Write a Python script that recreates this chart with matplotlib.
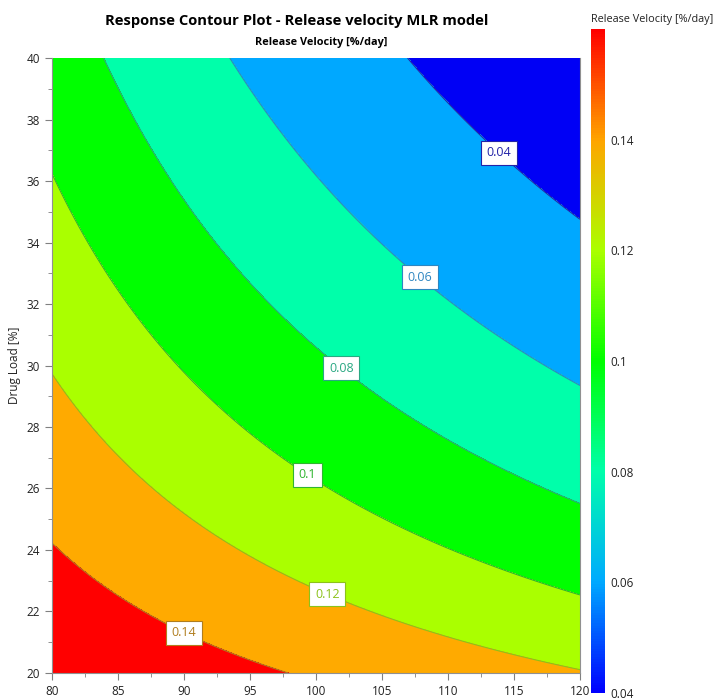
import numpy as np
import matplotlib
matplotlib.use("Agg")
import matplotlib.pyplot as plt
from matplotlib.colors import LinearSegmentedColormap, Normalize
from matplotlib.cm import ScalarMappable

plt.rcParams['font.family'] = ['Open Sans', 'DejaVu Sans']

# MLR model (log scale): ln(v) = b0 + b1*x + b2*load + b12*x*load
b0 = -2.639
b1 = 0.01689
b2 = 0.066
b12 = -0.001175

x_range = [80, 120]
load_range = [20, 40]

levels = [0.04, 0.06, 0.08, 0.10, 0.12, 0.14]
fill_colors = ["#0000f5", "#00a8ff", "#00ffaa", "#00ff00", "#aaff00", "#ffaa00", "#ff0000"]
line_colors = ["#2323a8", "#2e86c1", "#2aa882", "#2fb52f", "#8cc21a", "#b07d1e"]

# colour bar scale
cbar_values = [0.04, 0.06, 0.08, 0.10, 0.12, 0.14, 0.16]
cbar_colors = ["#0000ff", "#00aaff", "#00ffaa", "#00ff00", "#aaff00", "#ffa500", "#ff0000"]

x = np.linspace(x_range[0], x_range[1], 300)
y = np.linspace(load_range[0], load_range[1], 300)
X, Y = np.meshgrid(x, y)
Z = np.exp(b0 + b1 * X + b2 * Y + b12 * X * Y)

fig = plt.figure(figsize=(7.14, 7.0), dpi=100)
ax = fig.add_axes([0.0728, 0.0386, 0.7395, 0.8785])

ax.contourf(X, Y, Z, levels=[0] + levels + [1], colors=fill_colors)
cs = ax.contour(X, Y, Z, levels=levels, colors=line_colors, linewidths=0.8)

label_spots = [(113.4, 36.7), (107.9, 32.9), (101.9, 29.9), (99.3, 26.4), (100.8, 22.5), (90.0, 21.3)]
labels = ax.clabel(cs, fmt='%g', fontsize=9, inline=True, manual=label_spots)
for t in labels:
    t.set_rotation(0)
    t.set_bbox(dict(boxstyle='square,pad=0.45', fc='white', ec=t.get_color(), lw=0.8))

ax.set_xlim(x_range)
ax.set_ylim(load_range)
ax.set_xticks(np.arange(80, 121, 5))
ax.set_xticks(np.arange(80, 121, 2.5), minor=True)
ax.set_yticks(np.arange(20, 41, 2))
ax.set_yticks(np.arange(20, 41, 1), minor=True)
ax.tick_params(which='both', direction='out', color='#808080', labelsize=8.5, labelcolor='#222222')
ax.tick_params(which='major', length=5)
ax.tick_params(which='minor', length=3)
for s in ['left', 'bottom', 'right']:
    ax.spines[s].set_color('#909090')
ax.spines['top'].set_visible(False)
ax.set_ylabel("Drug Load [%]", fontsize=8.5, color='#222222')

fig.text(0.416, 0.970, "Response Contour Plot - Release velocity MLR model",
         ha='center', va='center', fontsize=10.6, fontweight='bold')
fig.text(0.45, 0.940, "Release Velocity [%/day]", ha='center', va='center',
         fontsize=7.8, fontweight='bold')

# colour bar
cax = fig.add_axes([0.828, 0.01, 0.0196, 0.9486])
pos = [(v - cbar_values[0]) / (cbar_values[-1] - cbar_values[0]) for v in cbar_values]
cmap = LinearSegmentedColormap.from_list("rv", list(zip(pos, cbar_colors)))
sm = ScalarMappable(norm=Normalize(cbar_values[0], cbar_values[-1]), cmap=cmap)
cb = fig.colorbar(sm, cax=cax)
cb.outline.set_visible(False)
cb.set_ticks(levels)
cb.set_ticklabels(['%g' % v for v in levels])
cax.tick_params(length=0, labelsize=8.5, labelcolor='#222222', pad=4)
fig.text(0.828, 0.972, "Release Velocity [%/day]", ha='left', va='center', fontsize=7.8, color='#222222')

fig.savefig("out.png", dpi=100)
